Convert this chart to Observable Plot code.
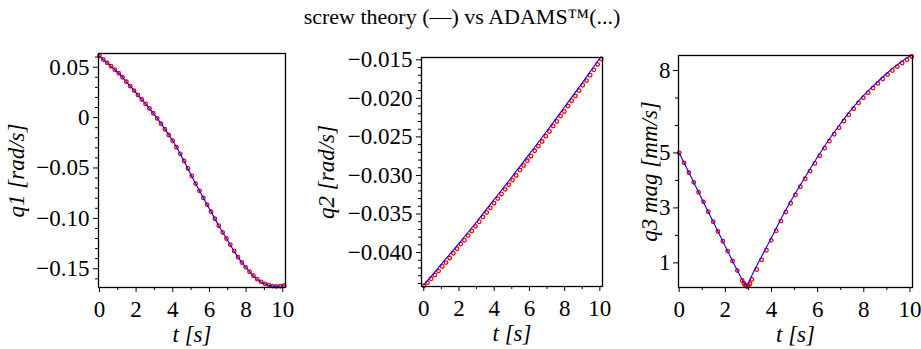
<!DOCTYPE html>
<html><head><meta charset="utf-8">
<script src="https://cdn.jsdelivr.net/npm/d3@7"></script>
<script src="https://cdn.jsdelivr.net/npm/@observablehq/plot@0.6"></script>
<style>
body{margin:0;background:#fff}
#root{position:relative;width:921px;height:349px;overflow:hidden;background:#fff}
#root svg{position:absolute;left:0;top:0}
#root svg text{font-family:"Liberation Serif","Times New Roman",serif !important}
#title{position:absolute;left:0;top:4px;width:924px;text-align:center;font-family:"Liberation Serif";font-size:22px;color:#000;z-index:5}
</style></head>
<body>
<div id="root"><div id="title">screw theory (—) vs ADAMS™(...)</div></div>
<script>
const title = "screw theory (—) vs ADAMS™(...)";
const xTicks = [0, 2, 4, 6, 8, 10];
const xTickLabels = ["0", "2", "4", "6", "8", "10"];
const xMinor = [1, 3, 5, 7, 9];
const xLabel = "t [s]";

// ADAMS sample times (red dots)
const tDots = [0,0.21,0.42,0.63,0.84,1.05,1.26,1.47,1.68,1.89,2.1,2.31,2.52,2.73,2.94,3.15,3.36,3.57,3.78,3.99,4.2,4.41,4.62,4.83,5.04,5.25,5.46,5.67,5.88,6.09,6.3,6.51,6.72,6.93,7.14,7.35,7.56,7.77,7.98,8.19,8.4,8.61,8.82,9.03,9.24,9.45,9.66,9.87,10.08];

// q1
const q1Label = "q1 [rad/s]";
const q1Ticks = [0.05, 0, -0.05, -0.10, -0.15];
const q1TickLabels = ["0.05", "0", "\u22120.05", "\u22120.10", "\u22120.15"];
const q1Minor = [0.06,0.04,0.03,0.02,0.01,-0.01,-0.02,-0.03,-0.04,-0.06,-0.07,-0.08,-0.09,-0.11,-0.12,-0.13,-0.14,-0.16];
const tLine1 = [0,0.5,1,1.5,2,2.5,3,3.5,4,4.5,5,5.5,6,6.5,7,7.5,8,8.5,9,9.5,10,10.1];
const q1Line = [0.061,0.053,0.045,0.035,0.0245,0.014,0.003,-0.0095,-0.023,-0.039,-0.057,-0.074,-0.0905,-0.107,-0.122,-0.137,-0.149,-0.159,-0.165,-0.1675,-0.1668,-0.166];
const q1Dots = [0.061,0.0577,0.0543,0.0510,0.0475,0.0440,0.0400,0.0356,0.0312,0.0268,0.0224,0.0180,0.0136,0.0090,0.0043,-0.0008,-0.0060,-0.0115,-0.0172,-0.0230,-0.0295,-0.0360,-0.0430,-0.0505,-0.0580,-0.0655,-0.0727,-0.0797,-0.0866,-0.0935,-0.1004,-0.1073,-0.1140,-0.1200,-0.1262,-0.1324,-0.1385,-0.1438,-0.1486,-0.1530,-0.1570,-0.1603,-0.1630,-0.1650,-0.1663,-0.1672,-0.1675,-0.1673,-0.1666];

// q2
const q2Label = "q2 [rad/s]";
const q2Ticks = [-0.015, -0.020, -0.025, -0.030, -0.035, -0.040];
const q2TickLabels = ["\u22120.015", "\u22120.020", "\u22120.025", "\u22120.030", "\u22120.035", "\u22120.040"];
const q2Minor = [-0.044,-0.043,-0.042,-0.041,-0.039,-0.038,-0.037,-0.036,-0.034,-0.033,-0.032,-0.031,-0.029,-0.028,-0.027,-0.026,-0.024,-0.023,-0.022,-0.021,-0.019,-0.018,-0.017,-0.016];
const tLine2 = [0,1,2,3,4,5,6,7,8,9,10,10.05];
const q2Line = [-0.0442,-0.0415,-0.0388,-0.0360,-0.0331,-0.0302,-0.0272,-0.0242,-0.0211,-0.0180,-0.0148,-0.01465];
const q2Dots = [-0.0443,-0.0439,-0.0434,-0.0429,-0.0424,-0.0418,-0.0413,-0.0407,-0.0401,-0.0395,-0.0389,-0.0384,-0.0378,-0.0372,-0.0366,-0.0360,-0.0354,-0.0348,-0.0342,-0.0336,-0.0330,-0.0324,-0.0318,-0.0312,-0.0306,-0.0300,-0.0293,-0.0287,-0.0281,-0.0275,-0.0268,-0.0262,-0.0256,-0.0249,-0.0243,-0.0236,-0.0230,-0.0223,-0.0217,-0.0210,-0.0203,-0.0197,-0.0190,-0.0183,-0.0177,-0.0170,-0.0163,-0.0156,-0.0149];

// q3
const q3Label = "q3 mag [mm/s]";
const q3Ticks = [1, 3, 5, 8];
const q3TickLabels = ["1", "3", "5", "8"];
const q3Minor = [2, 4, 6, 7];
const tLine3 = [0,0.5,1,1.5,2,2.5,2.75,2.85,2.92,3.0,3.25,3.5,3.75,4,4.5,5,5.5,6,6.5,7,7.5,8,8.5,9,9.5,10,10.05];
const q3Line = [5.0,4.15,3.30,2.45,1.60,0.76,0.36,0.23,0.19,0.29,0.72,1.12,1.52,1.92,2.74,3.49,4.18,4.86,5.50,6.08,6.62,7.10,7.51,7.90,8.24,8.53,8.55];
const tDots3 = [0,0.21,0.42,0.63,0.84,1.05,1.26,1.47,1.68,1.89,2.1,2.31,2.52,2.73,2.8,2.86,2.91,2.96,3.01,3.07,3.15,3.36,3.57,3.78,3.99,4.2,4.41,4.62,4.83,5.04,5.25,5.46,5.67,5.88,6.09,6.3,6.51,6.72,6.93,7.14,7.35,7.56,7.77,7.98,8.19,8.4,8.61,8.82,9.03,9.24,9.45,9.66,9.87,10.08];
const q3Dots = [5.0,4.64,4.29,3.93,3.57,3.22,2.86,2.50,2.14,1.79,1.43,1.07,0.72,0.36,0.26,0.19,0.15,0.14,0.17,0.24,0.40,0.76,1.11,1.46,1.82,2.17,2.52,2.85,3.17,3.47,3.77,4.06,4.34,4.62,4.90,5.17,5.43,5.68,5.92,6.16,6.39,6.61,6.82,7.01,7.19,7.36,7.53,7.69,7.85,8.0,8.14,8.27,8.39,8.51];

const zip = (ts, vs) => ts.map((t, i) => ({t, v: vs[i]}));
const W = 921, H = 349;
const FONT = "'Liberation Serif', 'Times New Roman', serif";
const FS = 23;

function panel(cfg) {
  const xMap = new Map(xTicks.map((d, i) => [d, xTickLabels[i]]));
  const yMap = new Map(cfg.yTicks.map((d, i) => [d, cfg.yTickLabels[i]]));
  return Plot.plot({
    width: W, height: H,
    marginLeft: cfg.l, marginRight: W - cfg.r, marginTop: cfg.t, marginBottom: H - cfg.b,
    style: {background: "transparent", fontFamily: FONT, fontSize: FS + "px", color: "black", overflow: "visible"},
    x: {domain: cfg.xd, label: null},
    y: {domain: cfg.yd, label: null},
    marks: [
      Plot.dot(zip(cfg.tDots, cfg.dots), {x: "t", y: "v", r: 1.8, stroke: "#ff0000", strokeWidth: 1.3, fill: "none"}),
      Plot.line(zip(cfg.tLine, cfg.line), {x: "t", y: "v", stroke: "#0000ff", strokeWidth: 1.1, curve: "monotone-x"}),
      Plot.frame({stroke: "black", strokeWidth: 1.3}),
      Plot.axisX(xTicks, {tickSize: 5, tickPadding: 8, tickFormat: d => xMap.get(d), label: null, fontSize: FS, fontFamily: FONT}),
      Plot.axisX(xMinor, {tickSize: 3, text: null, label: null}),
      Plot.axisY(cfg.yTicks, {tickSize: 5, tickPadding: cfg.pad, tickFormat: d => yMap.get(d), label: null, fontSize: FS, fontFamily: FONT}),
      Plot.axisY(cfg.yMinor, {tickSize: 3, text: null, label: null}),
      Plot.text([cfg.ylabel], {frameAnchor: "left", dx: -cfg.ylOff, rotate: -90, fontFamily: FONT, fontStyle: "italic", fontSize: FS, text: d => d, textAnchor: "middle", lineAnchor: "middle"}),
      Plot.text([xLabel], {frameAnchor: "bottom", dy: 47, fontFamily: FONT, fontStyle: "italic", fontSize: FS, text: d => d, textAnchor: "middle", lineAnchor: "middle"})
    ]
  });
}

const root = document.getElementById("root");
root.appendChild(panel({
  l: 98, r: 285, t: 53, b: 287, xd: [-0.05, 10.15], yd: [-0.1686, 0.0636],
  yTicks: q1Ticks, yTickLabels: q1TickLabels, yMinor: q1Minor, pad: 4,
  tLine: tLine1, line: q1Line, tDots: tDots, dots: q1Dots, ylabel: q1Label, ylOff: 82
}));
root.appendChild(panel({
  l: 421, r: 602, t: 57, b: 286, xd: [-0.13, 10.15], yd: [-0.0444, -0.0147],
  yTicks: q2Ticks, yTickLabels: q2TickLabels, yMinor: q2Minor, pad: 4,
  tLine: tLine2, line: q2Line, tDots: tDots, dots: q2Dots, ylabel: q2Label, ylOff: 95
}));
root.appendChild(panel({
  l: 678, r: 912, t: 55, b: 287, xd: [-0.03, 10.11], yd: [0.105, 8.545],
  yTicks: q3Ticks, yTickLabels: q3TickLabels, yMinor: q3Minor, pad: 3,
  tLine: tLine3, line: q3Line, tDots: tDots3, dots: q3Dots, ylabel: q3Label, ylOff: 29
}));
</script>
</body></html>
